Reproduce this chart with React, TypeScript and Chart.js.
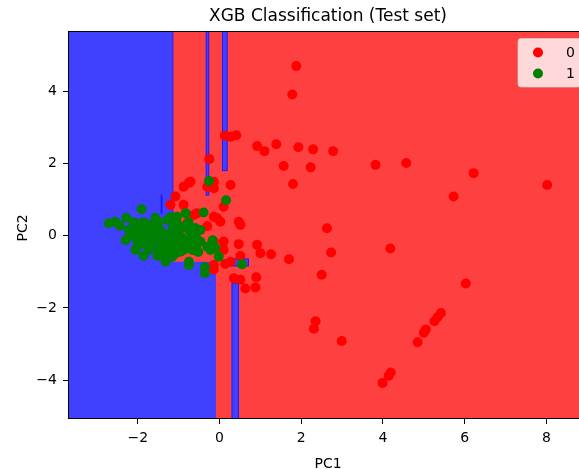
import React, { useEffect, useRef } from 'react';
import { Chart, registerables } from 'chart.js';

Chart.register(...registerables);

const chartTitle = 'XGB Classification (Test set)';
const xAxisLabel = 'PC1';
const yAxisLabel = 'PC2';
const classLabels = ['0', '1'];
const classColors = ['#ff0000', '#008000'];
const regionColors = ['#ff4040', '#4040ff'];

// Class 0 (red) test points
const class0X = [1.88, 1.78, 1.10, 1.39, 1.93, 2.29, 2.78, 1.57, 2.23, 3.82, 4.57, 1.80, 6.22, 8.02, 5.73, 0.13, 0.27, 0.41, 0.92, -0.25, -0.75, -0.88, -0.14, -0.14, -0.30, 0.27, 0.10, -0.88, -1.08, -1.20, -0.63, -0.14, 0.02, 0.47, 0.51, -0.30, -0.79, -0.14, 0.10, 0.47, 0.92, 1.26, 1.00, 0.51, 0.10, 0.14, -0.14, -0.14, 0.35, 0.51, 0.90, 0.63, 0.88, 2.63, 1.70, 2.73, 4.18, 2.50, 6.03, 2.35, 2.31, 2.99, 5.42, 5.34, 5.26, 5.05, 5.00, 4.85, 4.19, 4.14, 3.99, -0.06, -0.71, 0.27, -0.55];
const class0Y = [4.71, 3.92, 2.35, 2.54, 2.46, 2.40, 2.35, 1.94, 1.90, 1.97, 2.02, 1.44, 1.74, 1.41, 1.09, 2.78, 2.75, 2.79, 2.49, 2.13, 1.47, 1.36, 1.50, 1.32, 1.36, 1.41, 0.81, 0.86, 1.09, 0.86, 0.58, 0.53, 0.39, 0.39, 0.30, 0.27, 0.35, -0.16, -0.16, -0.23, -0.25, -0.51, -0.48, -0.56, -0.39, -0.78, -0.81, -0.93, -1.18, -1.22, -1.15, -1.46, -1.43, 0.21, -0.65, -0.46, -0.35, -1.08, -1.32, -2.37, -2.58, -2.92, -2.14, -2.25, -2.37, -2.60, -2.69, -2.95, -3.79, -3.88, -4.08, 0.49, 1.50, -0.72, 0.63];

// Class 1 (green) test points
const class1X = [-2.71, -2.55, -2.44, -2.28, -1.91, -2.22, -2.10, -1.86, -1.65, -2.06, -1.86, -1.69, -1.49, -1.32, -1.16, -0.96, -1.00, -1.28, -1.04, -0.83, -0.75, -0.75, -0.36, -0.36, 0.55, -0.02, -0.22, -0.30, -0.47, -0.39, 0.16, -0.26, -1.94, -1.81, -1.69, -1.57, -1.45, -1.40, -1.25, -1.15, -1.08, -0.91, -0.81, -0.71, -0.64, -0.57, -1.74, -2.01, -1.50, -1.32, -1.06, -0.88, -1.52, -1.18, -0.76, -0.59, -0.67, -2.13, -1.99, -1.79, -1.64, -1.55, -1.45, -1.35, -1.25, -1.20, -1.10, -1.01, -0.96, -0.81, -0.71, -0.57, -0.47, -1.06, -1.40, -1.74, -1.94, -2.30, -2.20, -1.57, -1.20, -0.66, -0.52, -0.17, -0.10];
const class1Y = [0.35, 0.39, 0.28, 0.50, 0.74, 0.16, 0.38, 0.38, 0.32, -0.39, -0.55, -0.30, -0.44, -0.72, -0.58, -0.44, 0.12, 0.44, 0.53, 0.63, -0.81, -0.72, -0.87, -1.04, -0.79, -0.58, -0.39, -0.30, -0.16, 0.65, 0.99, 1.52, 0.00, -0.12, 0.11, -0.06, 0.16, -0.20, 0.00, 0.22, -0.20, -0.06, 0.22, -0.23, 0.00, -0.34, 0.27, -0.20, 0.38, -0.34, 0.38, -0.39, -0.56, -0.34, 0.38, 0.22, -0.35, 0.02, 0.22, 0.11, -0.12, 0.22, -0.28, 0.05, -0.20, -0.45, 0.05, -0.23, 0.27, -0.14, 0.11, -0.06, 0.16, -0.48, -0.50, -0.39, -0.23, -0.12, 0.00, 0.50, 0.52, -0.39, -0.45, -0.12, -0.34];

const xLimits = [-3.71, 9.02];
const yLimits = [-5.082, 5.684];
const xTickValues = [-2, 0, 2, 4, 6, 8];
const yTickValues = [-4, -2, 0, 2, 4];

// Predicted decision regions (rectangles in PC space) and their predicted class
const regionX0 = [-3.71, -3.71, -1.14, -0.328, 0.071, 0.304, 0.267, -0.64, -1.43];
const regionX1 = [9.02, -1.14, -0.088, -0.264, 0.186, 0.463, 0.708, -0.39, -1.41];
const regionY0 = [-5.082, -5.082, -5.082, 1.13, 1.81, -5.082, -0.836, 0.08, 0.63];
const regionY1 = [5.684, 5.684, -0.72, 5.684, 5.684, -1.31, -0.64, 0.16, 1.13];
const regionClass = [0, 1, 1, 1, 1, 1, 1, 1, 1];

const FONT = 'DejaVu Sans';

const fmt = (v: number) => (v < 0 ? '\u2212' + Math.abs(v) : String(v));

const regionsPlugin = {
  id: 'decisionRegions',
  beforeDatasetsDraw(chart: any) {
    const { ctx, chartArea, scales } = chart;
    const xs = scales.x;
    const ys = scales.y;
    ctx.save();
    ctx.beginPath();
    ctx.rect(chartArea.left, chartArea.top, chartArea.right - chartArea.left, chartArea.bottom - chartArea.top);
    ctx.clip();
    const boxes = regionClass.map((c, i) => {
      const x0 = xs.getPixelForValue(regionX0[i]);
      const x1 = xs.getPixelForValue(regionX1[i]);
      const y0 = ys.getPixelForValue(regionY1[i]);
      const y1 = ys.getPixelForValue(regionY0[i]);
      return { c, x0, y0, w: x1 - x0, h: y1 - y0 };
    });
    boxes.forEach((b) => {
      ctx.fillStyle = regionColors[b.c];
      ctx.fillRect(b.x0, b.y0, b.w, b.h);
    });
    // contour edges of the big blue area against red
    const big = boxes[1];
    ctx.strokeStyle = 'rgba(20,20,255,0.7)';
    ctx.lineWidth = 1;
    ctx.beginPath();
    ctx.moveTo(big.x0 + big.w, big.y0);
    ctx.lineTo(big.x0 + big.w, boxes[2].y0);
    ctx.stroke();
    boxes.forEach((b, i) => {
      if (b.c === 1 && b.w < 20) {
        ctx.strokeStyle = 'rgba(20,20,255,0.9)';
        ctx.strokeRect(b.x0, b.y0, b.w, b.h);
      }
    });
    ctx.restore();
  },
};

const framePlugin = {
  id: 'frameAndText',
  afterDraw(chart: any) {
    const { ctx, chartArea } = chart;
    const { left, top, right, bottom } = chartArea;
    ctx.save();
    ctx.strokeStyle = '#000';
    ctx.lineWidth = 1;
    ctx.strokeRect(left + 0.5, top + 0.5, right - left - 1, bottom - top - 1);

    ctx.fillStyle = '#000';
    ctx.font = `17px "${FONT}"`;
    ctx.textAlign = 'center';
    ctx.textBaseline = 'alphabetic';
    ctx.fillText(chartTitle, (left + right) / 2, top - 10);

    ctx.font = `14px "${FONT}"`;
    ctx.fillText(xAxisLabel, (left + right) / 2, 468);
    ctx.save();
    ctx.translate(26.5, (top + bottom) / 2 + 3);
    ctx.rotate(-Math.PI / 2);
    ctx.fillText(yAxisLabel, 0, 0);
    ctx.restore();

    const boxRight = right - 7;
    const boxLeft = boxRight - 63;
    const boxTop = top + 7.5;
    const boxH = 48.5;
    ctx.beginPath();
    (ctx as any).roundRect(boxLeft, boxTop, boxRight - boxLeft, boxH, 3);
    ctx.fillStyle = 'rgba(255,255,255,0.8)';
    ctx.fill();
    ctx.strokeStyle = 'rgba(204,204,204,0.8)';
    ctx.stroke();
    ctx.textAlign = 'left';
    ctx.textBaseline = 'middle';
    for (let i = 0; i < classLabels.length; i++) {
      const cy = boxTop + 14 + i * 21;
      ctx.beginPath();
      ctx.arc(boxLeft + 20, cy, 5, 0, Math.PI * 2);
      ctx.fillStyle = classColors[i];
      ctx.fill();
      ctx.fillStyle = '#000';
      ctx.fillText(classLabels[i], boxLeft + 48, cy + 1);
    }
    ctx.restore();
  },
};

export default function App() {
  const canvasRef = useRef<HTMLCanvasElement | null>(null);

  useEffect(() => {
    const canvas = canvasRef.current;
    if (!canvas) return;
    const tickFont = { family: FONT, size: 14 };
    const chart = new Chart(canvas, {
      type: 'scatter',
      data: {
        datasets: [
          {
            label: classLabels[1],
            data: class1X.map((x, i) => ({ x, y: class1Y[i] })),
            backgroundColor: classColors[1],
            borderWidth: 0,
            pointRadius: 5,
            pointHoverRadius: 5,
            order: 1,
          },
          {
            label: classLabels[0],
            data: class0X.map((x, i) => ({ x, y: class0Y[i] })),
            backgroundColor: classColors[0],
            borderWidth: 0,
            pointRadius: 5,
            pointHoverRadius: 5,
            order: 2,
          },
        ],
      },
      options: {
        responsive: false,
        animation: false,
        events: [],
        layout: { padding: { left: 0, top: 31, right: 12, bottom: 0 } },
        plugins: {
          legend: { display: false },
          tooltip: { enabled: false },
          title: { display: false },
        },
        scales: {
          x: {
            type: 'linear',
            min: xLimits[0],
            max: xLimits[1],
            afterFit: (s: any) => {
              s.height = 50;
            },
            afterBuildTicks: (s: any) => {
              s.ticks = xTickValues.map((v) => ({ value: v }));
            },
            ticks: {
              font: tickFont,
              color: '#000',
              padding: 6,
              maxRotation: 0,
              autoSkip: false,
              callback: (v: any) => fmt(Number(v)),
            },
            grid: {
              drawOnChartArea: false,
              drawTicks: true,
              tickLength: 5,
              tickColor: '#000',
              tickWidth: 1,
            },
            border: { display: false },
          },
          y: {
            type: 'linear',
            min: yLimits[0],
            max: yLimits[1],
            afterFit: (s: any) => {
              s.width = 68;
            },
            afterBuildTicks: (s: any) => {
              s.ticks = yTickValues.map((v) => ({ value: v }));
            },
            ticks: {
              font: tickFont,
              color: '#000',
              padding: 6,
              autoSkip: false,
              callback: (v: any) => fmt(Number(v)),
            },
            grid: {
              drawOnChartArea: false,
              drawTicks: true,
              tickLength: 5,
              tickColor: '#000',
              tickWidth: 1,
            },
            border: { display: false },
          },
        },
      } as any,
      plugins: [regionsPlugin, framePlugin],
    });
    return () => chart.destroy();
  }, []);

  return (
    <div
      style={{
        position: 'fixed',
        left: 0,
        top: 0,
        width: 579,
        height: 469,
        overflow: 'hidden',
        background: '#fff',
      }}
    >
      <canvas ref={canvasRef} width={600} height={469} style={{ width: 600, height: 469, display: 'block' }} />
    </div>
  );
}
